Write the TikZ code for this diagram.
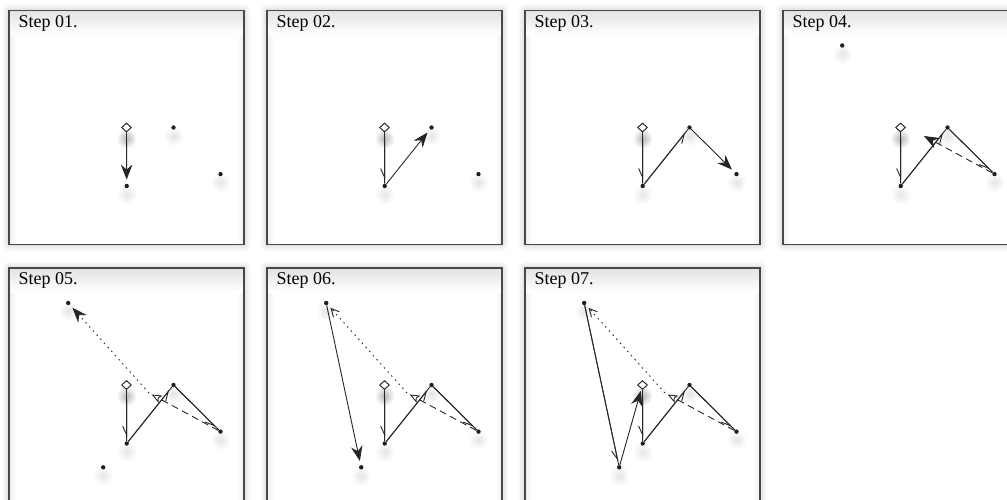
\documentclass[tikz,border=0pt]{standalone}
\usepackage{fontspec}
\setmainfont{Liberation Serif}
\usetikzlibrary{arrows.meta,shapes.geometric,shadows.blur}
\tikzset{
  framefill/.style={fill=white, blur shadow={shadow xshift=0pt, shadow yshift=0pt, shadow blur radius=7pt, shadow opacity=28}},
  frameline/.style={draw=black!72, line width=1.4pt},
  steplabel/.style={anchor=base west, inner sep=0pt, font=\fontsize{18}{20}\selectfont, text=black},
  dotn/.style={circle, fill=black!88, minimum size=4.4pt, inner sep=0pt},
  startn/.style={diamond, draw=black!85, fill=white, line width=0.95pt, minimum width=10pt, minimum height=9pt, inner sep=0pt},
  dotshadow/.style={inner color=black!10, outer color=white},
  startshadow/.style={inner color=black!28, outer color=white},
  link/.style={draw=black!85, line width=0.9pt},
  solidl/.style={link},
  dashl/.style={link, dash pattern=on 7pt off 4.5pt},
  dotl/.style={link, dash pattern=on 1.5pt off 4pt},
  cur/.style={shorten >=4pt, -{Stealth[length=15pt, width=11.5pt, inset=5pt]}},
  oldtip/.style={shorten >=4pt, -{Straight Barb[harpoon, swap, length=9pt, width=8pt]}},
  oldtri/.style={shorten >=3pt, -{Stealth[open, length=10pt, width=8pt, inset=2pt]}},
  oldbarb/.style={shorten >=4pt, -{Straight Barb[length=8pt, width=8pt]}},
}
% old connector: full line plus a small tip near its end
\newcommand\oldlink[4][oldtip]{\draw[#2] (#3) -- (#4); \draw[#2,#1] (#3) -- (#4);}
\newcommand\mkpanel[4]{%
  \path[framefill] (#2,#3) rectangle ++(235,234);
  \shade[left color=black!6, right color=white] (#2+0.7,#3+0.7) rectangle (#2+7,#3+233.3);
  \shade[right color=black!6, left color=white] (#2+228,#3+0.7) rectangle (#2+234.3,#3+233.3);
  \shade[top color=black!11, bottom color=white] (#2+0.7,#3+0.7) rectangle (#2+234.3,#3+24);
  \draw[frameline] (#2,#3) rectangle ++(235,234);
  \node[steplabel] (L#1) at (#2+9.3,#3+16.5) {#4};
  \coordinate (M#1) at (#2+140,#3+125);
}
% soft shadows under the points
\newcommand\shadows[4]{% tag x0 y0 flag: 0 none, 1 D, 2 D and E
  \shade[dotshadow] (#2+117.7,#3+184) circle[radius=10];
  \shade[dotshadow] (#2+164.5,#3+125.5) circle[radius=10];
  \shade[dotshadow] (#2+211.5,#3+172) circle[radius=10];
  \shade[startshadow] (#2+117.5,#3+128) circle[radius=10];
  \ifnum#4>0 \shade[dotshadow] (#2+59.2,#3+43.5) circle[radius=10];\fi
  \ifnum#4>1 \shade[dotshadow] (#2+94.2,#3+208) circle[radius=10];\fi
}
\newcommand\basepts[3]{%
  \node[dotn] (A#1) at (#2+117.7,#3+175.5) {};
  \node[dotn] (B#1) at (#2+164.5,#3+117) {};
  \node[dotn] (C#1) at (#2+211.5,#3+163.6) {};
  \node[startn] (S#1) at (#2+117.5,#3+117) {};
}
\newcommand\dptn[3]{\node[dotn] (D#1) at (#2+59.2,#3+35) {};}
\newcommand\eptn[3]{\node[dotn] (E#1) at (#2+94.2,#3+199.3) {};}
\begin{document}
\begin{tikzpicture}[x=1pt,y=-1pt]
\useasboundingbox (0,0) rectangle (1007,499);
% panel 1
\mkpanel{1}{9}{10.5}{Step 01.}
\shadows{1}{9}{10.5}{0}
\basepts{1}{9}{10.5}
\draw[solidl,cur] (S1) -- (A1);
% panel 2
\mkpanel{2}{267}{10.5}{Step 02.}
\shadows{2}{267}{10.5}{0}
\basepts{2}{267}{10.5}
\oldlink{solidl}{S2}{A2}
\draw[solidl,cur] (A2) -- (B2);
% panel 3
\mkpanel{3}{525}{10.5}{Step 03.}
\shadows{3}{525}{10.5}{0}
\basepts{3}{525}{10.5}
\oldlink{solidl}{S3}{A3}
\oldlink{solidl}{A3}{B3}
\draw[solidl,cur] (B3) -- (C3);
% panel 4
\mkpanel{4}{783}{10.5}{Step 04.}
\shadows{4}{783}{10.5}{1}
\basepts{4}{783}{10.5}
\dptn{4}{783}{10.5}
\oldlink{solidl}{S4}{A4}
\oldlink{solidl}{A4}{B4}
\oldlink{solidl}{B4}{C4}
\draw[dashl,cur,shorten >=1pt] (C4) -- (M4);
% panel 5
\mkpanel{5}{9}{268}{Step 05.}
\shadows{5}{9}{268}{2}
\basepts{5}{9}{268}
\dptn{5}{9}{268}
\eptn{5}{9}{268}
\oldlink{solidl}{S5}{A5}
\oldlink{solidl}{A5}{B5}
\oldlink{solidl}{B5}{C5}
\draw[dashl,oldtri] (C5) -- (M5);
\draw[dotl,cur] (M5) -- (D5);
% panel 6
\mkpanel{6}{267}{268}{Step 06.}
\shadows{6}{267}{268}{2}
\basepts{6}{267}{268}
\dptn{6}{267}{268}
\eptn{6}{267}{268}
\oldlink{solidl}{S6}{A6}
\oldlink{solidl}{A6}{B6}
\oldlink{solidl}{B6}{C6}
\draw[dashl,oldtri] (C6) -- (M6);
\draw[dotl,oldbarb] (M6) -- (D6);
\draw[solidl,cur] (D6) -- (E6);
% panel 7
\mkpanel{7}{525}{268}{Step 07.}
\shadows{7}{525}{268}{2}
\basepts{7}{525}{268}
\dptn{7}{525}{268}
\eptn{7}{525}{268}
\oldlink{solidl}{S7}{A7}
\oldlink{solidl}{A7}{B7}
\oldlink{solidl}{B7}{C7}
\draw[dashl,oldtri] (C7) -- (M7);
\draw[dotl,oldbarb] (M7) -- (D7);
\oldlink{solidl}{D7}{E7}
\draw[solidl,cur,shorten >=2pt] (E7) -- (S7);
\end{tikzpicture}
\end{document}
